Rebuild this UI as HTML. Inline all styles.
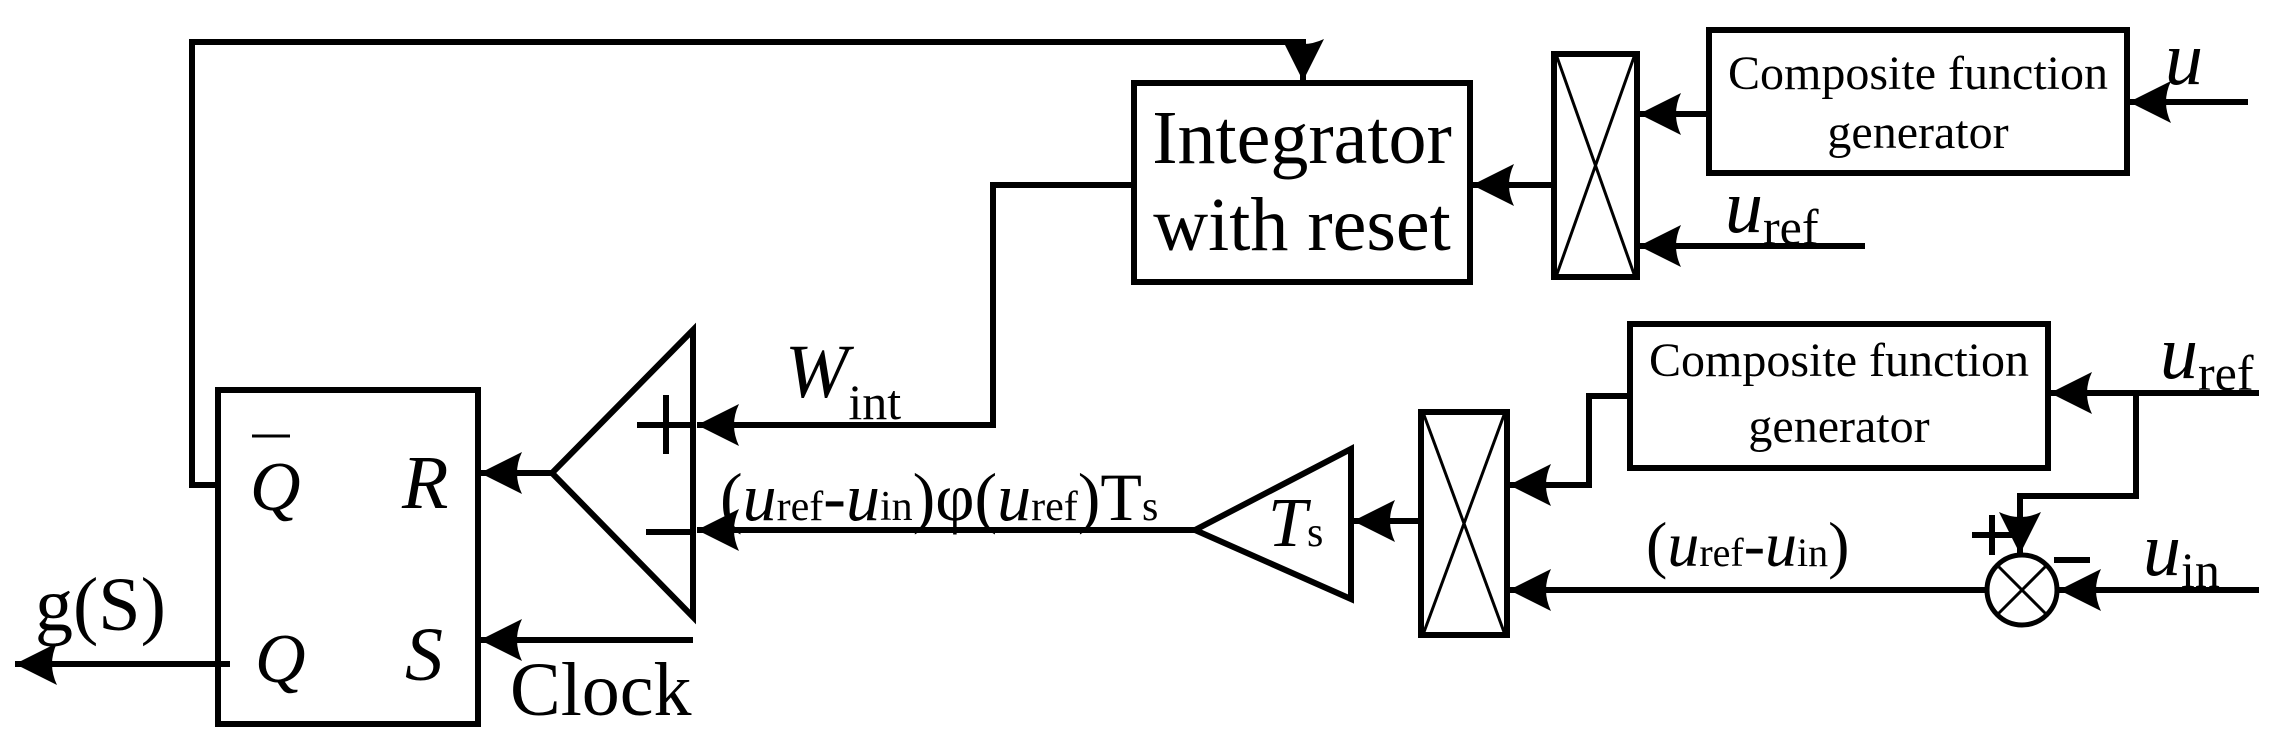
<!DOCTYPE html>
<html><head><meta charset="utf-8"><style>
html,body{margin:0;padding:0;background:#fff;}
svg{display:block;}
text{font-family:"Liberation Serif",serif;fill:#000;}
</style></head><body>
<svg width="2291" height="753" viewBox="0 0 2291 753" xmlns="http://www.w3.org/2000/svg">
<defs>
<marker id="a" markerWidth="50" markerHeight="50" viewBox="0 0 50 50" refX="46" refY="25" orient="auto" markerUnits="userSpaceOnUse">
<path d="M46,25 L4,4 Q14,25 4,46 Z" fill="#000"/>
</marker>
</defs>
<g stroke="#000" stroke-width="6" fill="none">
<polyline points="218,485 192,485 192,42 1303,42 1303,81" marker-end="url(#a)"/>
<rect x="1134" y="83" width="336" height="199"/>
<rect x="1554" y="54" width="83" height="223"/>
<rect x="1709" y="30" width="418" height="143"/>
<rect x="1630" y="324" width="418" height="144"/>
<rect x="1421" y="412" width="86" height="223"/>
<rect x="218" y="390" width="260" height="334"/>
<polygon points="693,330 693,617 552,473"/>
<polygon points="1351,449 1351,599 1195,530"/>
<circle cx="2022" cy="590" r="35" stroke-width="5"/>
<line x1="1554" y1="185" x2="1472" y2="185" marker-end="url(#a)"/>
<line x1="1709" y1="114" x2="1639" y2="114" marker-end="url(#a)"/>
<line x1="2248" y1="102" x2="2129" y2="102" marker-end="url(#a)"/>
<line x1="1865" y1="246" x2="1639" y2="246" marker-end="url(#a)"/>
<polyline points="1134,185 993,185 993,425 697,425" marker-end="url(#a)"/>
<line x1="1195" y1="530" x2="697" y2="530" marker-end="url(#a)"/>
<line x1="552" y1="473" x2="480" y2="473" marker-end="url(#a)"/>
<line x1="693" y1="640" x2="480" y2="640" marker-end="url(#a)"/>
<line x1="230" y1="664" x2="15" y2="664" marker-end="url(#a)"/>
<line x1="1421" y1="521" x2="1353" y2="521" marker-end="url(#a)"/>
<polyline points="1630,396 1589,396 1589,485 1509,485" marker-end="url(#a)"/>
<line x1="2259" y1="393" x2="2050" y2="393" marker-end="url(#a)"/>
<polyline points="2136,393 2136,496 2020,496 2020,554" marker-end="url(#a)"/>
<line x1="2259" y1="590" x2="2059" y2="590" marker-end="url(#a)"/>
<line x1="1987" y1="590" x2="1509" y2="590" marker-end="url(#a)"/>
<line x1="637" y1="425" x2="693" y2="425"/>
<line x1="666" y1="395" x2="666" y2="454"/>
<line x1="646" y1="532" x2="693" y2="532"/>
<line x1="1972" y1="535" x2="2012" y2="535"/>
<line x1="1992" y1="515" x2="1992" y2="555"/>
<line x1="2054" y1="560" x2="2090" y2="560"/>
<line x1="252" y1="436" x2="290" y2="436" stroke-width="3"/>
</g>
<g stroke="#000" stroke-width="3" fill="none">
<line x1="1557" y1="57" x2="1634" y2="274"/>
<line x1="1634" y1="57" x2="1557" y2="274"/>
<line x1="1424" y1="415" x2="1504" y2="632"/>
<line x1="1504" y1="415" x2="1424" y2="632"/>
<line x1="1997" y1="565" x2="2047" y2="615"/>
<line x1="2047" y1="565" x2="1997" y2="615"/>
</g>
<text x="1302" y="163" font-size="76" text-anchor="middle">Integrator</text>
<text x="1302" y="250" font-size="76" text-anchor="middle">with reset</text>
<text x="1918" y="89" font-size="48" text-anchor="middle">Composite function</text>
<text x="1918" y="148" font-size="48" text-anchor="middle">generator</text>
<text x="1839" y="376" font-size="48" text-anchor="middle">Composite function</text>
<text x="1839" y="442" font-size="48" text-anchor="middle">generator</text>
<text x="2165" y="84" font-size="76" font-style="italic">u</text>
<text x="1725" y="232" font-size="76" font-style="italic">u<tspan font-size="50" font-style="normal" dy="12">ref</tspan></text>
<text x="2160" y="378" font-size="76" font-style="italic">u<tspan font-size="50" font-style="normal" dy="12">ref</tspan></text>
<text x="2143" y="575" font-size="76" font-style="italic">u<tspan font-size="50" font-style="normal" dy="12">in</tspan></text>
<text x="1646" y="566" font-size="64">(<tspan font-style="italic">u</tspan><tspan font-size="40">ref</tspan>-<tspan font-style="italic">u</tspan><tspan font-size="40">in</tspan>)</text>
<text x="720" y="520" font-size="68">(<tspan font-style="italic">u</tspan><tspan font-size="42">ref</tspan>-<tspan font-style="italic">u</tspan><tspan font-size="42">in</tspan>)φ(<tspan font-style="italic">u</tspan><tspan font-size="42">ref</tspan>)T<tspan font-size="42">s</tspan></text>
<text x="1268" y="546" font-size="70" font-style="italic">T<tspan font-size="42" font-style="normal">s</tspan></text>
<text x="785" y="397" font-size="76" font-style="italic">W<tspan font-size="50" font-style="normal" dy="22">int</tspan></text>
<text x="250" y="510" font-size="70" font-style="italic">Q</text>
<text x="402" y="508" font-size="76" font-style="italic">R</text>
<text x="255" y="682" font-size="70" font-style="italic">Q</text>
<text x="405" y="680" font-size="76" font-style="italic">S</text>
<text x="35" y="630" font-size="76">g(S)</text>
<text x="510" y="715" font-size="76">Clock</text>
</svg>
</body></html>
